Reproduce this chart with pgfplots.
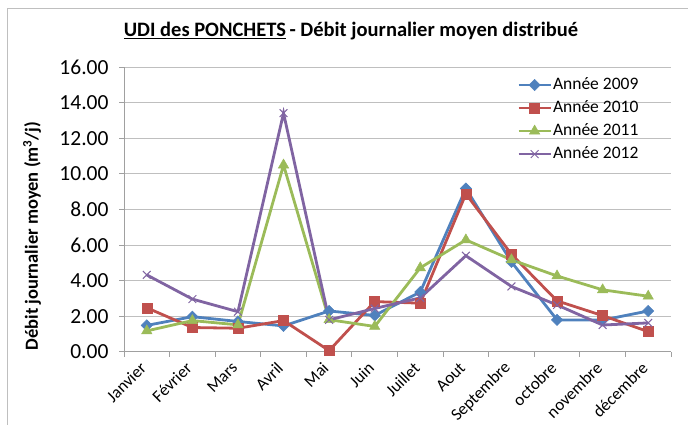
\documentclass[border=0pt]{standalone}
\usepackage{fontspec}
\setmainfont{Carlito}
\usepackage{pgfplots}
\pgfplotsset{compat=1.18}
\definecolor{cA}{HTML}{4F81BD}
\definecolor{cB}{HTML}{C0504D}
\definecolor{cC}{HTML}{9BBB59}
\definecolor{cD}{HTML}{8064A2}
\definecolor{gridc}{HTML}{BFBFBF}
\definecolor{axc}{HTML}{A0A0A0}
\begin{document}
\begin{tikzpicture}
\useasboundingbox (0pt,0pt) rectangle (688pt,425pt);
\draw[gridc, line width=1pt] (7pt,0pt) -- (7pt,416pt) -- (688pt,416pt);
\node[font=\bfseries\fontsize{20.5}{20.5}\selectfont] at (351pt,394pt) {\underline{UDI des PONCHETS}\,- Débit journalier moyen distribué};
\node[rotate=90, font=\bfseries\fontsize{18.5}{18.5}\selectfont] at (32pt,189pt) {Débit journalier moyen (m\textsuperscript{3}/j)};
\begin{axis}[
  at={(124pt,73.3pt)}, anchor=south west,
  scale only axis, width=547pt, height=284.4pt,
  xmin=0.5, xmax=12.5, ymin=0, ymax=16,
  axis lines*=left,
  axis line style={axc, line width=0.9pt},
  ytick={0,2,...,16},
  ymajorgrids, grid style={gridc, line width=0.9pt},
  tick align=outside,
  major tick length=5pt,
  tick style={axc, line width=0.9pt},
  yticklabel style={/pgf/number format/fixed, /pgf/number format/fixed zerofill, /pgf/number format/precision=2, /pgf/number format/assume math mode=true},
  yticklabel style={font=\fontsize{21.5}{21.5}\selectfont, xshift=-7pt},
  xtick={1,...,12},
  xtick style={draw=none},
  xticklabels={Janvier,Février,Mars,Avril,Mai,Juin,Juillet,Aout,Septembre,octobre,novembre,décembre},
  xticklabel style={xshift=-1pt, yshift=-6pt, rotate=45, anchor=east, font=\fontsize{17}{17}\selectfont},
  extra x ticks={0.5,1.5,...,12.5},
  extra x tick labels={},
  extra x tick style={xtick style={draw=axc}, grid=none, major tick length=5pt},
  legend style={at={(0.7185,0.968)}, anchor=north west, draw=none, fill=none,
    font=\fontsize{17.5}{17.5}\selectfont, row sep=6pt, inner sep=0pt,
    nodes={inner sep=1pt, text height=12pt, text depth=3pt}},
  legend cell align=left,
  legend image code/.code={\draw[mark repeat=2, mark phase=2] plot coordinates {(0pt,0pt) (16pt,0pt) (32pt,0pt)};},
]
\addplot[cA, line width=2.8pt, mark=square*, mark size=4pt, mark options={rotate=45, line width=0.5pt}] coordinates {
(1,1.48) (2,1.97) (3,1.70) (4,1.45) (5,2.29) (6,2.04) (7,3.36) (8,9.18) (9,5.05) (10,1.79) (11,1.78) (12,2.29)};
\addlegendentry{Année 2009}
\addplot[cB, line width=2.8pt, mark=square*, mark size=5pt, mark options={line width=0.5pt}] coordinates {
(1,2.47) (2,1.36) (3,1.32) (4,1.75) (5,0.06) (6,2.82) (7,2.73) (8,8.88) (9,5.48) (10,2.86) (11,2.03) (12,1.13)};
\addlegendentry{Année 2010}
\addplot[cC, line width=2.8pt, mark=triangle*, mark size=6pt, mark options={line width=0.5pt}] coordinates {
(1,1.17) (2,1.75) (3,1.51) (4,10.5) (5,1.80) (6,1.42) (7,4.72) (8,6.29) (9,5.17) (10,4.26) (11,3.48) (12,3.12)};
\addlegendentry{Année 2011}
\addplot[cD, line width=2.8pt, mark=x, mark size=5.5pt, mark options={line width=1pt}] coordinates {
(1,4.32) (2,2.96) (3,2.25) (4,13.42) (5,1.79) (6,2.43) (7,3.03) (8,5.40) (9,3.67) (10,2.63) (11,1.50) (12,1.62)};
\addlegendentry{Année 2012}
\end{axis}
\end{tikzpicture}
\end{document}
